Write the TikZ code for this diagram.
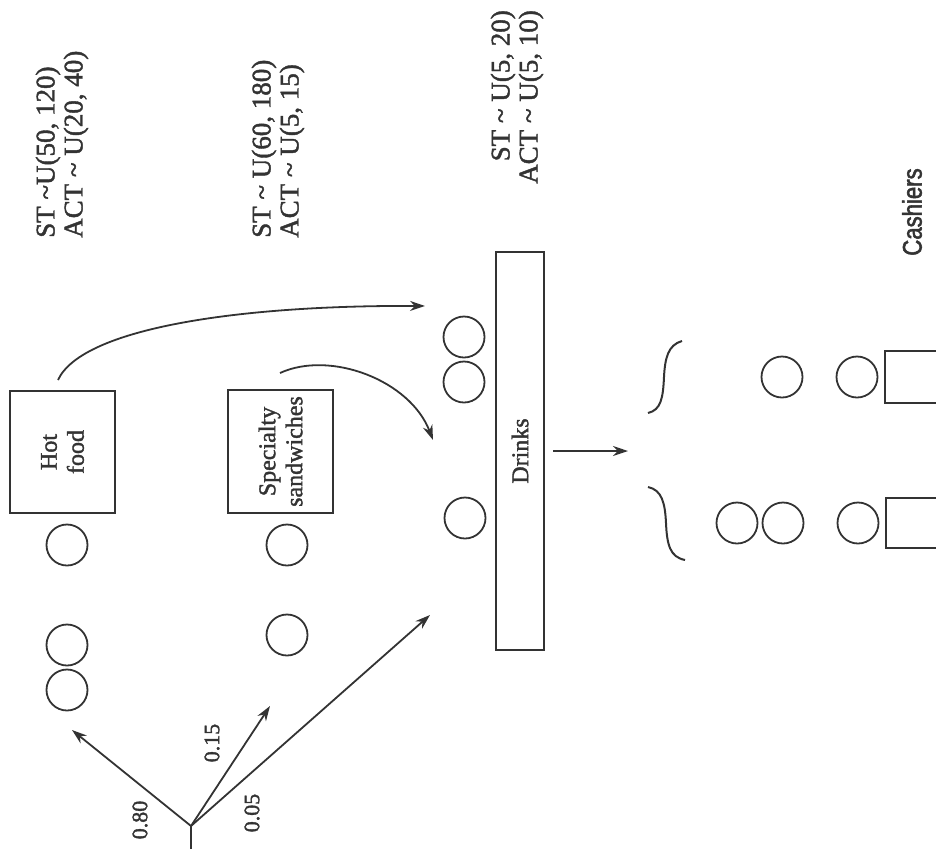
\documentclass[tikz,border=0pt]{standalone}
\usepackage{fontspec}
\setmainfont{Liberation Serif}[FakeBold=1.5]
\newfontfamily\cashfont[FakeStretch=0.82,FakeBold=2]{Liberation Sans}
\usetikzlibrary{arrows.meta}
\definecolor{ink}{HTML}{333333}
\begin{document}
\begin{tikzpicture}[x=1pt,y=-1pt,
  queue/.style={circle, draw=ink, line width=1.8pt, minimum size=41pt, inner sep=0pt},
  station/.style={rectangle, draw=ink, line width=2pt, inner sep=0pt, text=ink,
    font=\fontsize{24}{27}\selectfont, align=center},
  lbl/.style={rotate=90, text=ink, inner sep=0pt, font=\fontsize{27}{28}\selectfont},
  prob/.style={rotate=90, text=ink, inner sep=0pt, font=\fontsize{22}{24}\selectfont},
  arr/.style={draw=ink, line width=1.8pt, -{Stealth[length=15pt,width=10pt]}},
  plain/.style={draw=ink, line width=1.8pt},
  brace/.style={draw=ink, line width=2pt}]
\useasboundingbox (0,0) rectangle (936,849);
\clip (0,0) rectangle (936,849);

% distribution labels
\node[lbl, anchor=west, align=left] (lhot) at (62,238)
  {ST \textasciitilde U(50, 120)\\ACT \textasciitilde\ U(20, 40)};
\node[lbl, anchor=west, align=left] (lsand) at (278,238)
  {ST \textasciitilde\ U(60, 180)\\ACT \textasciitilde\ U(5, 15)};
\node[lbl, anchor=east, align=right] (ldrink) at (517,10)
  {ST \textasciitilde\ U(5, 20)\\ACT \textasciitilde\ U(5, 10)};
\node[rotate=90, inner sep=0pt, text=ink, font=\cashfont\fontsize{27}{30}\selectfont] (lcash) at (912,212) {Cashiers};

% stations
\node[station, rotate=90, minimum width=122pt, minimum height=105pt] (hot) at (62.5,452) {Hot\\food};
\node[station, rotate=90, minimum width=123pt, minimum height=105pt] (sand) at (280.5,451.5) {Specialty\\sandwiches};
\node[station, rotate=90, minimum width=398pt, minimum height=48pt] (drinks) at (520,451) {Drinks};
\node[station, minimum width=80pt, minimum height=52pt] (cash1) at (925,377) {};
\node[station, minimum width=80pt, minimum height=50pt] (cash2) at (926,523) {};

% queues
\node[queue] (q1) at (67,545) {};
\node[queue] (q2) at (67,645) {};
\node[queue] (q3) at (67,690) {};
\node[queue] (s1) at (287,545) {};
\node[queue] (s2) at (287,635) {};
\node[queue] (d1) at (464,337) {};
\node[queue] (d2) at (464,382) {};
\node[queue] (d3) at (465,518) {};
\node[queue] (c1a) at (782,377) {};
\node[queue] (c1b) at (857,377) {};
\node[queue] (c2a) at (737,523) {};
\node[queue] (c2b) at (783,523) {};
\node[queue] (c2c) at (858,523) {};

% split of arrivals
\coordinate (stem) at (191,849);
\coordinate (split) at (191,826);
\coordinate (a80) at (72,730);
\coordinate (a15) at (270,706);
\coordinate (a05) at (430,615);
\draw[plain] (stem) -- (split);
\draw[arr] (split) -- (a80);
\draw[arr] (split) -- (a15);
\draw[arr] (split) -- (a05);
\node[prob] (p80) at (140,820) {0.80};
\node[prob] (p15) at (212,743) {0.15};
\node[prob] (p05) at (252,813) {0.05};

% flows to drinks
\coordinate (hotout) at (58,380);
\coordinate (hotin) at (425,306);
\coordinate (sandout) at (280,373);
\coordinate (sandin) at (433,440);
\draw[arr] (hotout) .. controls (82,328) and (240,305) .. (hotin);
\draw[arr] (sandout) .. controls (330,350) and (410,380) .. (sandin);

% drinks to cashiers
\coordinate (drinksout) at (553,451);
\coordinate (bracein) at (628,451);
\draw[arr] (drinksout) -- (bracein);

% braces
\coordinate (b1t) at (682,341);
\coordinate (b1m) at (664,377);
\coordinate (b1b) at (648,413);
\coordinate (b2t) at (648,487);
\coordinate (b2m) at (666,523);
\coordinate (b2b) at (685,560);
\draw[brace] (b1t) .. controls (668,345) and (665,358) .. (b1m)
  .. controls (663,398) and (661,410) .. (b1b);
\draw[brace] (b2t) .. controls (662,490) and (665,503) .. (b2m)
  .. controls (667,545) and (670,557) .. (b2b);
\end{tikzpicture}
\end{document}
